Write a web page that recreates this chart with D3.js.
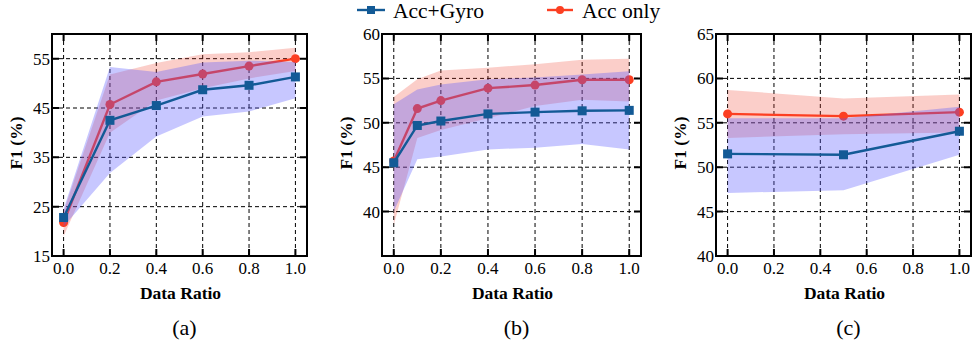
<!DOCTYPE html>
<html>
<head>
<meta charset="utf-8">
<script src="https://cdn.jsdelivr.net/npm/d3@7"></script>
<style>
  body { margin: 0; background: #fff; }
  svg { display: block; }
  svg text { font-family: "Liberation Serif", "Times New Roman", Times, serif; }
</style>
</head>
<body>
<div id="chart"></div>
<script>
// ---- data ----
var ratioA = [0, 0.2, 0.4, 0.6, 0.8, 1.0];
var gyroA = [22.8, 42.5, 45.5, 48.7, 49.6, 51.3];
var gyroLoA = [21.0, 31.8, 39.2, 43.3, 44.3, 47.0];
var gyroHiA = [24.5, 53.3, 52.3, 54.2, 54.6, 54.3];
var accA = [21.8, 45.7, 50.3, 51.9, 53.5, 55.0];
var accLoA = [19.0, 40.0, 46.5, 49.0, 51.0, 52.5];
var accHiA = [24.0, 51.8, 54.1, 55.9, 56.3, 57.2];

var ratioB = [0, 0.1, 0.2, 0.4, 0.6, 0.8, 1.0];
var gyroB = [45.5, 49.7, 50.2, 51.0, 51.2, 51.35, 51.4];
var gyroLoB = [40.0, 45.9, 46.2, 47.0, 47.2, 47.6, 47.0];
var gyroHiB = [52.1, 53.75, 54.3, 54.9, 55.1, 55.45, 55.8];
var accB = [45.7, 51.6, 52.5, 53.9, 54.25, 54.85, 54.85];
var accLoB = [38.5, 48.3, 49.2, 50.5, 51.9, 52.6, 52.4];
var accHiB = [52.9, 54.9, 55.9, 56.2, 56.6, 57.1, 57.2];

var ratioC = [0, 0.5, 1.0];
var gyroC = [51.5, 51.4, 54.05];
var gyroLoC = [47.1, 47.4, 51.4];
var gyroHiC = [55.5, 55.5, 56.8];
var accC = [56.0, 55.75, 56.2];
var accLoC = [53.3, 53.7, 53.9];
var accHiC = [58.7, 57.75, 58.2];

var xTicks = [0, 0.2, 0.4, 0.6, 0.8, 1.0];
var yTicksA = [15, 25, 35, 45, 55];
var yTicksB = [40, 45, 50, 55, 60];
var yTicksC = [40, 45, 50, 55, 60, 65];

var seriesNames = ["Acc+Gyro", "Acc only"];
var panelLabels = ["(a)", "(b)", "(c)"];

// ---- style ----
var blue = "#135a96", red = "#fc3f22";
var blueFill = "#5555ff", redFill = "#f03c28";

var svg = d3.select("#chart").append("svg")
  .attr("width", 972).attr("height", 348);

var panels = [
  { left: 52, right: 307, yDom: [15, 60], yTicks: yTicksA, x: ratioA,
    gyro: gyroA, gyroLo: gyroLoA, gyroHi: gyroHiA, acc: accA, accLo: accLoA, accHi: accHiA },
  { left: 382, right: 641, yDom: [35, 60], yTicks: yTicksB, x: ratioB,
    gyro: gyroB, gyroLo: gyroLoB, gyroHi: gyroHiB, acc: accB, accLo: accLoB, accHi: accHiB },
  { left: 716, right: 971, yDom: [40, 65], yTicks: yTicksC, x: ratioC,
    gyro: gyroC, gyroLo: gyroLoC, gyroHi: gyroHiC, acc: accC, accLo: accLoC, accHi: accHiC }
];
var plotTop = 34, plotBottom = 256;

panels.forEach(function (p, k) {
  var xScale = d3.scaleLinear().domain([-0.05, 1.05]).range([p.left, p.right]);
  var yScale = d3.scaleLinear().domain(p.yDom).range([plotBottom, plotTop]);
  var g = svg.append("g");

  // dashed grid
  g.selectAll(".gx").data(xTicks).enter().append("line")
    .attr("x1", d => xScale(d)).attr("x2", d => xScale(d))
    .attr("y1", plotTop).attr("y2", plotBottom)
    .attr("stroke", "#000").attr("stroke-width", 1).attr("stroke-dasharray", "4,3");
  g.selectAll(".gy").data(p.yTicks).enter().append("line")
    .attr("x1", p.left).attr("x2", p.right)
    .attr("y1", d => yScale(d)).attr("y2", d => yScale(d))
    .attr("stroke", "#000").attr("stroke-width", 1).attr("stroke-dasharray", "4,3");

  var idx = d3.range(p.x.length);
  function band(lo, hi) {
    return d3.area().x(i => xScale(p.x[i])).y0(i => yScale(lo[i])).y1(i => yScale(hi[i]))(idx);
  }
  var line = function (v) {
    return d3.line().x(i => xScale(p.x[i])).y(i => yScale(v[i]))(idx);
  };

  // Acc only
  g.append("path").attr("d", band(p.accLo, p.accHi)).attr("fill", redFill).attr("fill-opacity", 0.25);
  g.append("path").attr("d", line(p.acc)).attr("fill", "none").attr("stroke", red).attr("stroke-width", 2.4);
  g.selectAll(".mr").data(idx).enter().append("circle")
    .attr("cx", i => xScale(p.x[i])).attr("cy", i => yScale(p.acc[i])).attr("r", 4.5).attr("fill", red);

  // Acc+Gyro
  g.append("path").attr("d", band(p.gyroLo, p.gyroHi)).attr("fill", blueFill).attr("fill-opacity", 0.33);
  g.append("path").attr("d", line(p.gyro)).attr("fill", "none").attr("stroke", blue).attr("stroke-width", 2.4);
  g.selectAll(".mb").data(idx).enter().append("rect")
    .attr("x", i => xScale(p.x[i]) - 4.5).attr("y", i => yScale(p.gyro[i]) - 4.5)
    .attr("width", 9).attr("height", 9).attr("fill", blue);

  // frame with inward ticks on all sides
  g.append("rect").attr("x", p.left).attr("y", plotTop)
    .attr("width", p.right - p.left).attr("height", plotBottom - plotTop)
    .attr("fill", "none").attr("stroke", "#000").attr("stroke-width", 2);
  var tl = 7;
  g.selectAll(".tx").data(xTicks).enter().append("path")
    .attr("d", d => "M" + xScale(d) + "," + plotBottom + "v" + (-tl) + "M" + xScale(d) + "," + plotTop + "v" + tl)
    .attr("stroke", "#000").attr("stroke-width", 2);
  g.selectAll(".ty").data(p.yTicks).enter().append("path")
    .attr("d", d => "M" + p.left + "," + yScale(d) + "h" + tl + "M" + p.right + "," + yScale(d) + "h" + (-tl))
    .attr("stroke", "#000").attr("stroke-width", 2);

  // tick labels
  g.selectAll(".lx").data(xTicks).enter().append("text")
    .attr("x", d => xScale(d)).attr("y", 274)
    .attr("text-anchor", "middle").attr("font-size", 17)
    .text(d => d3.format(".1f")(d));
  g.selectAll(".ly").data(p.yTicks).enter().append("text")
    .attr("x", p.left - 2).attr("y", d => yScale(d) + 6)
    .attr("text-anchor", "end").attr("font-size", 17)
    .text(d => d);

  // axis titles
  var cx = (p.left + p.right) / 2;
  g.append("text").attr("x", cx + 1).attr("y", 299)
    .attr("text-anchor", "middle").attr("font-size", 17.5).attr("font-weight", "bold")
    .text("Data Ratio");
  g.append("text")
    .attr("transform", "translate(" + (p.left - 30) + "," + 143 + ") rotate(-90)")
    .attr("text-anchor", "middle").attr("font-size", 17.5).attr("font-weight", "bold")
    .text("F1 (%)");
  g.append("text").attr("x", cx + 5).attr("y", 335)
    .attr("text-anchor", "middle").attr("font-size", 22)
    .text(panelLabels[k]);
});

// legend
var leg = svg.append("g");
leg.append("line").attr("x1", 357).attr("x2", 385).attr("y1", 10).attr("y2", 10)
  .attr("stroke", blue).attr("stroke-width", 2.4);
leg.append("rect").attr("x", 367).attr("y", 6).attr("width", 8).attr("height", 8).attr("fill", blue);
leg.append("text").attr("x", 393).attr("y", 17.5).attr("font-size", 21.5).text(seriesNames[0]);
leg.append("line").attr("x1", 547).attr("x2", 573).attr("y1", 10).attr("y2", 10)
  .attr("stroke", red).attr("stroke-width", 2.4);
leg.append("circle").attr("cx", 560).attr("cy", 10).attr("r", 4).attr("fill", red);
leg.append("text").attr("x", 582).attr("y", 17.5).attr("font-size", 21.5).text(seriesNames[1]);
</script>
</body>
</html>
